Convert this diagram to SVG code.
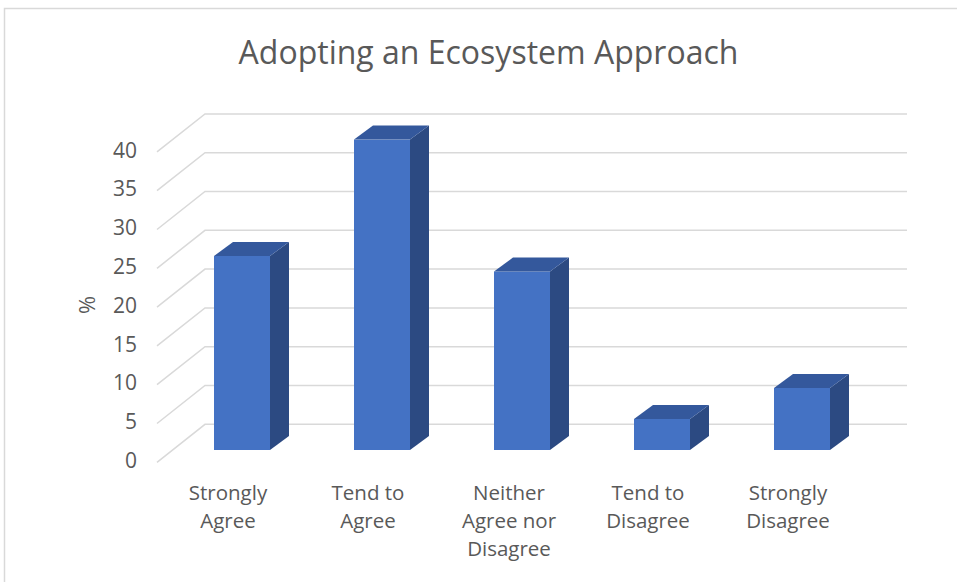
<svg xmlns="http://www.w3.org/2000/svg" width="957" height="582" viewBox="0 0 957 582">
<style>
.grid{stroke:#d9d9d9;stroke-width:1.5;fill:none}
.front{fill:#4472c4}
.side{fill:#2c4a82}
.top{fill:#34589c}
.t{font-family:"Open Sans","Liberation Sans",sans-serif;fill:#595959}
.ax{font-size:21px;text-anchor:end}
.cat{font-size:20.5px;text-anchor:middle}
</style>
<rect x="0" y="0" width="957" height="582" fill="#ffffff"/>
<path d="M4.5,582 V8.5 H957" fill="none" stroke="#d9d9d9" stroke-width="1.5"/>
<text class="t" x="488.5" y="64" font-size="32" text-anchor="middle">Adopting an Ecosystem Approach</text>
<g id="gridlines">
<path class="grid" d="M157,462.3 L205,424.3 H907"/>
<path class="grid" d="M157,423.5 L205,385.5 H907"/>
<path class="grid" d="M157,384.7 L205,346.7 H907"/>
<path class="grid" d="M157,345.9 L205,307.9 H907"/>
<path class="grid" d="M157,307.1 L205,269.1 H907"/>
<path class="grid" d="M157,268.3 L205,230.3 H907"/>
<path class="grid" d="M157,229.5 L205,191.5 H907"/>
<path class="grid" d="M157,190.7 L205,152.7 H907"/>
<path class="grid" d="M157,151.9 L205,113.9 H907"/>
</g>
<g id="y-axis">
<text class="t ax" x="137" y="468">0</text>
<text class="t ax" x="137" y="429.2">5</text>
<text class="t ax" x="137" y="390.4">10</text>
<text class="t ax" x="137" y="351.6">15</text>
<text class="t ax" x="137" y="312.8">20</text>
<text class="t ax" x="137" y="274">25</text>
<text class="t ax" x="137" y="235.2">30</text>
<text class="t ax" x="137" y="196.4">35</text>
<text class="t ax" x="137" y="157.6">40</text>
<text class="t" x="0" y="0" font-size="22" text-anchor="middle" transform="translate(95,305) rotate(-90)">%</text>
</g>
<g id="bar-strongly-agree">
<rect class="front" x="214" y="256" width="56" height="194"/>
<polygon class="side" points="270,256 289,242 289,436 270,450"/>
<polygon class="top" points="214,256 233,242 289,242 270,256"/>
</g>
<g id="bar-tend-to-agree">
<rect class="front" x="354" y="139.6" width="56" height="310.4"/>
<polygon class="side" points="410,139.6 429,125.6 429,436 410,450"/>
<polygon class="top" points="354,139.6 373,125.6 429,125.6 410,139.6"/>
</g>
<g id="bar-neither">
<rect class="front" x="494" y="271.5" width="56" height="178.5"/>
<polygon class="side" points="550,271.5 569,257.5 569,436 550,450"/>
<polygon class="top" points="494,271.5 513,257.5 569,257.5 550,271.5"/>
</g>
<g id="bar-tend-to-disagree">
<rect class="front" x="634" y="419" width="56" height="31"/>
<polygon class="side" points="690,419 709,405 709,436 690,450"/>
<polygon class="top" points="634,419 653,405 709,405 690,419"/>
</g>
<g id="bar-strongly-disagree">
<rect class="front" x="774" y="388" width="56" height="62"/>
<polygon class="side" points="830,388 849,374 849,436 830,450"/>
<polygon class="top" points="774,388 793,374 849,374 830,388"/>
</g>
<g id="x-axis">
<text class="t cat" x="228" y="500">Strongly</text>
<text class="t cat" x="228" y="528">Agree</text>
<text class="t cat" x="368" y="500">Tend to</text>
<text class="t cat" x="368" y="528">Agree</text>
<text class="t cat" x="509" y="500">Neither</text>
<text class="t cat" x="509" y="528">Agree nor</text>
<text class="t cat" x="509" y="556">Disagree</text>
<text class="t cat" x="648" y="500">Tend to</text>
<text class="t cat" x="648" y="528">Disagree</text>
<text class="t cat" x="788" y="500">Strongly</text>
<text class="t cat" x="788" y="528">Disagree</text>
</g>
</svg>
